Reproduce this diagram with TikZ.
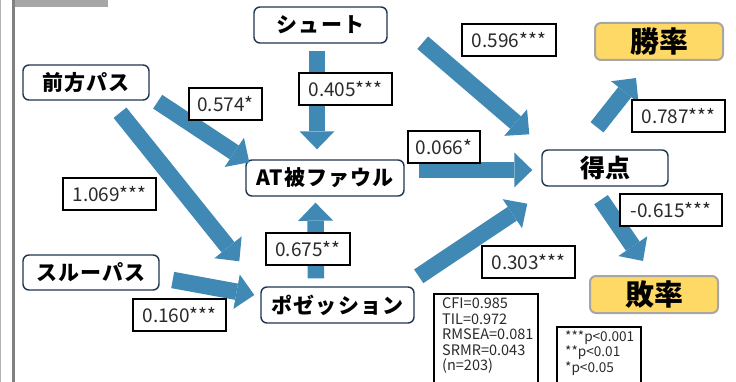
\documentclass[tikz,border=0pt]{standalone}
\usepackage{fontspec}
\setmainfont{Noto Sans CJK JP}
\newfontfamily\jpfont{Noto Sans CJK JP}[LetterSpace=5]
\newfontfamily\smallfont{Noto Sans CJK JP}
\usetikzlibrary{arrows.meta,calc}
\definecolor{arr}{HTML}{4189B5}
\definecolor{navy}{HTML}{1F3550}
\definecolor{ylw}{HTML}{FFD966}
\definecolor{ygray}{HTML}{A6A6A6}
\definecolor{txt}{HTML}{2A2A2A}
\begin{document}
\begin{tikzpicture}[x=1pt,y=-1pt,
  jbox/.style={draw=navy, line width=1.4pt, rounded corners=6pt, fill=white, inner sep=0pt,
    font=\jpfont\fontsize{21}{21}\selectfont\bfseries},
  ybox/.style={draw=ygray, line width=2pt, rounded corners=6pt, fill=ylw, inner sep=0pt,
    minimum width=128pt, minimum height=37pt, font=\fontsize{29}{29}\selectfont\bfseries},
  lbl/.style={draw=black, line width=1.3pt, fill=white, inner sep=0pt, minimum height=32pt,
    text=txt, font=\fontsize{19}{19}\selectfont},
  blk/.style={draw=arr, line width=16.5pt, -{Triangle[length=18pt,width=35pt,line width=0pt]}},
  small/.style={anchor=north west, align=left, inner sep=0pt, text=txt,
    font=\smallfont\fontsize{14.5}{15.6}\selectfont}
]
\useasboundingbox (0,0) rectangle (736,382);
\clip (0,0) rectangle (736,382);
% frame decorations
\fill[ygray] (12,0) rectangle (108,7);
\fill[gray] (12,0) rectangle (15,382);
\draw[gray!60, line width=1pt] (0.5,0) -- (0.5,382);

% nodes
\node[jbox, minimum width=126pt, minimum height=35pt] (fp) at (86,82.5) {前方パス};
\node[jbox, minimum width=133pt, minimum height=36pt] (sh) at (320.5,25) {シュート};
\node[jbox, minimum width=158pt, minimum height=36pt] (at) at (325,178) {AT被ファウル};
\node[jbox, minimum width=126pt, minimum height=36pt, font=\fontsize{25}{25}\selectfont\bfseries] (tk) at (605,168) {得点};
\node[jbox, minimum width=136pt, minimum height=35pt] (sp) at (91,272.5) {スルーパス};
\node[jbox, minimum width=153pt, minimum height=36pt] (po) at (337.5,305) {ポゼッション};
\node[ybox] (win) at (659,41.5) {勝率};
\node[ybox] (lose) at (654,294.5) {敗率};

% arrows
\draw[blk] ($(fp.south east)+(8,1)$) -- ($(at.north west)+(4,3)$);
\draw[blk] ($(fp.south)+(34,12)$) -- ($(po.north west)+(-21,-25)$);
\draw[blk] ($(sh.south)+(-3.5,7)$) -- ($(at.north)+(-8,-10)$);
\draw[blk] ($(sh.south east)+(35,-1)$) -- ($(tk.north west)+(-12,-15)$);
\draw[blk] ($(at.east)+(14,-8)$) -- ($(tk.west)+(-9,2)$);
\draw[blk] ($(po.north)+(-21.5,-8)$) -- ($(at.south)+(-9.5,6)$);
\draw[blk] ($(po.north east)+(4,-10)$) -- ($(tk.south west)+(-14,17)$);
\draw[blk] ($(sp.east)+(13,7.5)$) -- ($(po.west)+(-6,-10)$);
\draw[blk] ($(tk.north)+(-8,-22)$) -- ($(win.south)+(-23,17)$);
\draw[blk] ($(tk.south)+(-4,13)$) -- ($(lose.north)+(-11,-14)$);

% coefficient labels
\node[lbl, minimum width=73pt] (l574) at (225.5,104) {0.574*};
\node[lbl, minimum width=93pt] (l405) at (345.5,89) {0.405***};
\node[lbl, minimum width=94pt] (l596) at (509,40) {0.596***};
\node[lbl, minimum width=72pt] (l066) at (444,147) {0.066*};
\node[lbl, minimum width=93pt] (l787) at (678.5,116) {0.787***};
\node[lbl, minimum width=93pt] (l1069) at (109.5,194) {1.069***};
\node[lbl, minimum width=84pt] (l675) at (308,249) {0.675**};
\node[lbl, minimum width=93pt] (l303) at (528.5,262) {0.303***};
\node[lbl, minimum width=102pt] (l615) at (671,210) {-0.615***};
\node[lbl, minimum width=93pt] (l160) at (179.5,315) {0.160***};

% fit and p boxes
\draw[black, line width=1.3pt, fill=white] (434,294) rectangle (538,392);
\node[small] (fit) at (442,297.5) {CFI=0.985\\TIL=0.972\\RMSEA=0.081\\SRMR=0.043\\(n=203)};
\draw[black, line width=1.3pt, fill=white] (557,327) rectangle (641,392);
\node[small, font=\smallfont\fontsize{13.6}{15.4}\selectfont] (pv) at (565,330.5) {***p<0.001\\**p<0.01\\*p<0.05};
\end{tikzpicture}
\end{document}
